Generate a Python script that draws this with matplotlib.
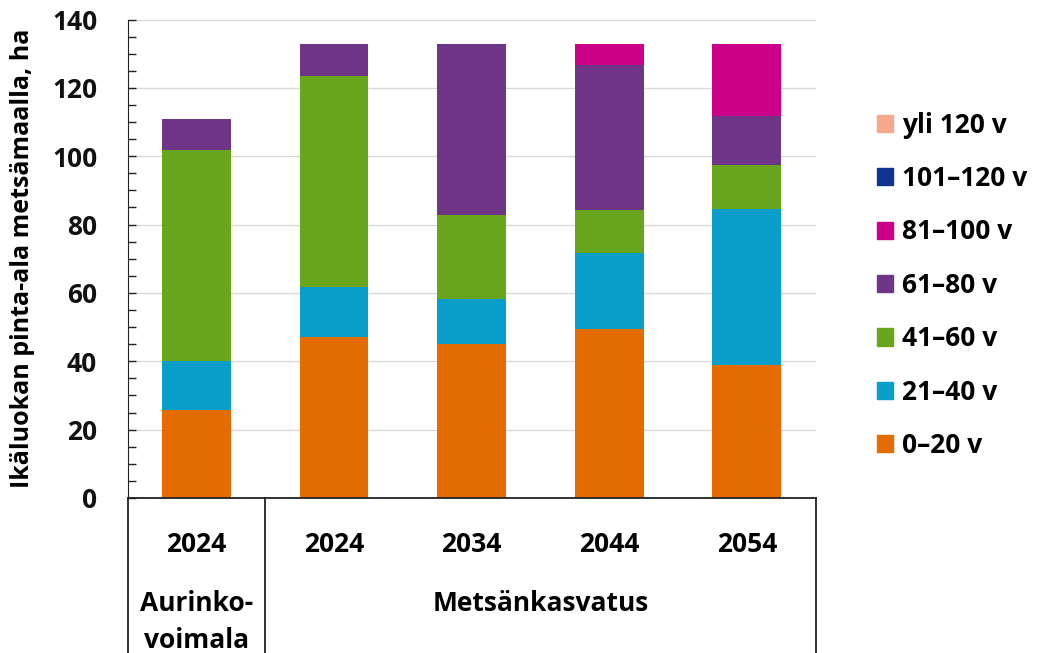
import matplotlib.pyplot as plt
import numpy as np
from matplotlib.patches import Patch

plt.rcParams['font.family'] = ['Open Sans', 'DejaVu Sans']
plt.rcParams['font.weight'] = 'bold'

# data
years = ["2024", "2024", "2034", "2044", "2054"]
age_classes = ["0–20 v", "21–40 v", "41–60 v", "61–80 v", "81–100 v", "101–120 v", "yli 120 v"]
v0_20 = [25.8, 47.2, 45.0, 49.5, 38.9]
v21_40 = [14.4, 14.4, 13.3, 22.1, 45.6]
v41_60 = [61.7, 61.8, 24.4, 12.7, 12.8]
v61_80 = [9.1, 9.5, 50.2, 42.3, 14.6]
v81_100 = [0, 0, 0, 6.3, 21.0]
v101_120 = [0, 0, 0, 0, 0]
v_yli120 = [0, 0, 0, 0, 0]
series = [v0_20, v21_40, v41_60, v61_80, v81_100, v101_120, v_yli120]
colors = ['#E46C00', '#0A9FCB', '#6AA51E', '#6F3586', '#CC0088', '#10338F', '#F5A98A']

FS = 19

fig = plt.figure(figsize=(10.4, 6.53), dpi=100)
ax = fig.add_axes([0.1228, 0.2374, 0.7843 - 0.1228, 0.9701 - 0.2374])

x = np.arange(len(years))
bottom = np.zeros(len(years))
for vals, col in zip(series, colors):
    ax.bar(x, vals, width=0.5, bottom=bottom, color=col, zorder=2)
    bottom += np.array(vals)

ax.set_xlim(-0.5, 4.5)
ax.set_ylim(0, 140)
ax.set_yticks(np.arange(0, 141, 20))
ax.set_yticks(np.arange(0, 141, 5), minor=True)
ax.yaxis.grid(True, color='#d9d9d9', linewidth=1, zorder=0)
ax.tick_params(axis='y', which='both', direction='in', length=6, width=1, colors='#222222',
               labelsize=FS, pad=22)
ax.tick_params(axis='y', labelcolor='#111111')
ax.set_ylabel('Ikäluokan pinta-ala metsämaalla, ha', fontsize=18, fontweight='bold', labelpad=12)

ax.set_xticks(x)
ax.set_xticklabels(years, fontsize=FS, fontweight='bold')
ax.tick_params(axis='x', length=0, pad=24)

for s in ['top', 'right']:
    ax.spines[s].set_visible(False)
ax.spines['left'].set_color('#222222')
ax.spines['bottom'].set_color('#222222')
ax.spines['bottom'].set_linewidth(1.3)

# category box lines below the axis
tr = ax.get_xaxis_transform()
for xv in [-0.5, 0.5, 4.5]:
    ax.plot([xv, xv], [0, -0.35], color='#222222', linewidth=1.3, transform=tr, clip_on=False)

ax.text(0, -0.221, 'Aurinko-', transform=tr, ha='center', va='center', fontsize=FS, fontweight='bold')
ax.text(0, -0.298, 'voimala', transform=tr, ha='center', va='center', fontsize=FS, fontweight='bold')
ax.text(2.5, -0.221, 'Metsänkasvatus', transform=tr, ha='center', va='center', fontsize=FS, fontweight='bold')

handles = [Patch(color=c, label=l) for c, l in zip(colors, age_classes)][::-1]
fig.legend(handles=handles, loc='center left', bbox_to_anchor=(0.843, 0.563), frameon=False,
           fontsize=FS, handlelength=0.62, handleheight=0.62, handletextpad=0.35,
           labelspacing=1.0, borderpad=0, borderaxespad=0)

plt.savefig('out.png', dpi=100)
